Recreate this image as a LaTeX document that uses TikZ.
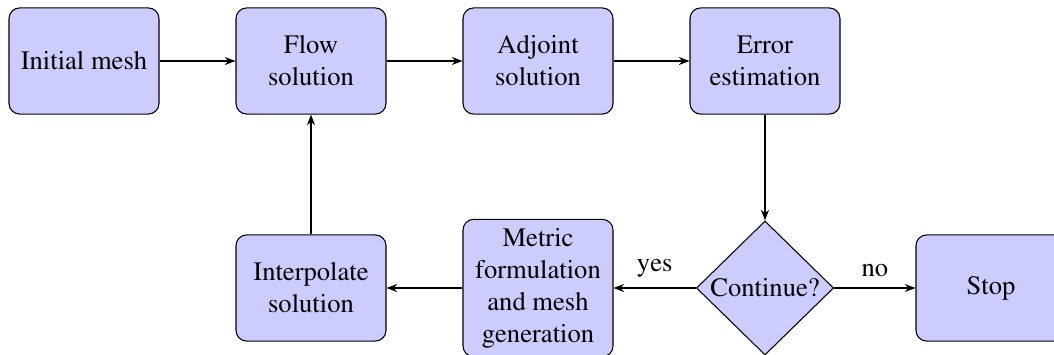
\documentclass[tikz,border=0pt]{standalone}
\usepackage[T1]{fontenc}
\usepackage{mathptmx}
\usetikzlibrary{shapes.geometric,arrows.meta}
\begin{document}
\begin{tikzpicture}[x=0.376pt,y=-0.376pt,
  blk/.style={draw, line width=0.4pt, fill=blue!20, rounded corners=4pt, minimum width=56.4pt, minimum height=39.9pt, align=center},
  dia/.style={draw, line width=0.4pt, fill=blue!20, diamond, minimum width=51.6pt, minimum height=50.4pt, inner sep=0pt},
  conn/.style={-{Stealth[length=4pt,width=3pt]}, line width=0.4pt},
  lbl/.style={above, inner sep=4pt}
]
\useasboundingbox (0,0) rectangle (1054,354);
\node[blk] (init) at (84,61) {Initial mesh};
\node[blk] (flow) at (311,61) {Flow\\solution};
\node[blk] (adj) at (538,61) {Adjoint\\solution};
\node[blk] (err) at (765,61) {Error\\estimation};
\node[dia] (cont) at (765,288) {Continue?};
\node[blk] (met) at (538,288) {Metric\\formulation\\and mesh\\generation};
\node[blk] (interp) at (311,288) {Interpolate\\solution};
\node[blk] (stop) at (991,288) {Stop};
\draw[conn] (init) -- (flow);
\draw[conn] (flow) -- (adj);
\draw[conn] (adj) -- (err);
\draw[conn] (err) -- (cont);
\draw[conn] (cont) -- node[lbl] {yes} (met);
\draw[conn] (cont) -- node[lbl] {no} (stop);
\draw[conn] (met) -- (interp);
\draw[conn] (interp) -- (flow);
\end{tikzpicture}
\end{document}
